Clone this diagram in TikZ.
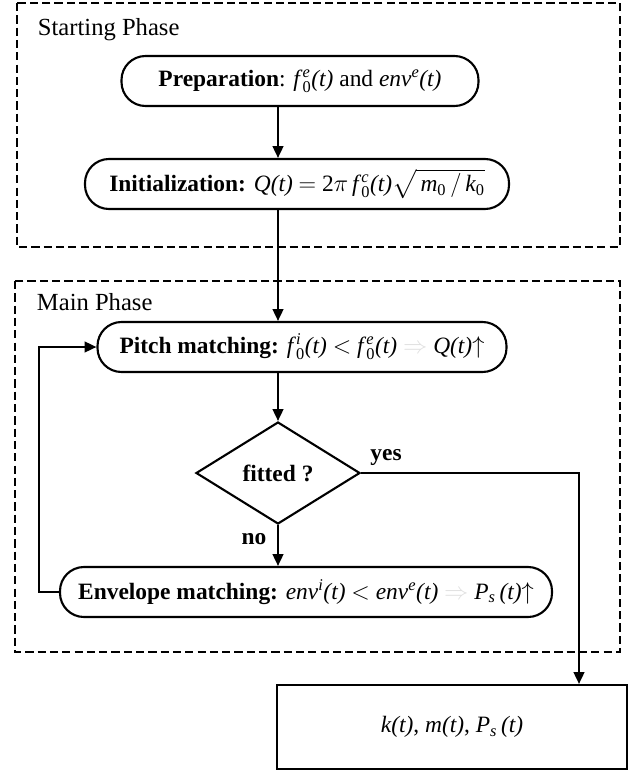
\documentclass[tikz,border=0pt]{standalone}
\usepackage{fontspec}
\setmainfont{Liberation Serif}
\usepackage{amsmath}
\usetikzlibrary{shapes.geometric,arrows.meta}
\newcommand{\fzero}[1]{\textit{f}$_{\textrm{0}}^{\textit{#1}}$\textit{(t)}}
\newcommand{\envel}[1]{\textit{env}$^{\textit{#1}}$\textit{(t)}}
\newcommand{\faint}{{\color{black!12}$\Rightarrow$}}

\begin{document}
\begin{tikzpicture}[x=0.03cm,y=-0.03cm,line width=1.8pt,>={Triangle[length=10pt,width=9pt]},
  every node/.style={font=\fontsize{20}{23}\selectfont},
  stage/.style={draw,rectangle,rounded corners=0.72cm,minimum height=1.5cm,inner sep=0pt},
  test/.style={draw,diamond,inner sep=0pt,minimum width=4.92cm,minimum height=3.06cm},
  phase/.style={draw,line width=1.5pt,dash pattern=on 7pt off 3.5pt}]
\useasboundingbox (0,0) rectangle (631,771);
\draw[phase] (17,3) rectangle (620,247);
\draw[phase] (15,281) rectangle (620,652);
\node[anchor=west,font=\fontsize{21}{24}\selectfont] (start) at (33,30)  { Starting Phase };
\node[anchor=west,font=\fontsize{21}{24}\selectfont] (main)  at (32,302) { Main Phase };
\node[stage,minimum width=10.71cm]  (prep)  at (300,81) { \textbf{Preparation}: \fzero{e} and \envel{e} };
\node[stage,minimum width=12.72cm]  (init)  at (297,184) { \textbf{Initialization:} \textit{Q(t)} $=$ 2$\pi$\,\fzero{c}$\sqrt{\,\textit{m}_{\textrm{0}}\,/\,\textit{k}_{\textrm{0}}}$ };
\node[stage,minimum width=12.27cm]  (pitch) at (302,347) { \textbf{Pitch matching:} \fzero{i} $<$ \fzero{e} \faint\ \textit{Q(t)}$\uparrow$ };
\node[test]                         (fit)   at (278,473) { \textbf{fitted ?} };
\node[stage,minimum width=14.76cm]  (env)   at (306,592) { \textbf{Envelope matching:} \envel{i} $<$ \envel{e} \faint\ \textit{P}$_{\textit{s}}$\,\textit{(t)}$\uparrow$ };
\node[draw,minimum width=10.5cm,minimum height=2.52cm] (res) at (452,727) { \textit{k(t)}, \textit{m(t)}, \textit{P}$_{\textit{s}}$\,\textit{(t)} };
\node                               (yes)   at (386,457) { \textbf{yes} };
\node                               (no)    at (254,539) { \textbf{no} };
\coordinate (col)  at (278,0);
\coordinate (yesx) at (579,0);
\draw[->] (prep.south -| col)  -- (init.north -| col);
\draw[->] (init.south -| col)  -- (pitch.north -| col);
\draw[->] (pitch.south -| col) -- (fit.north);
\draw[->] (fit.south)          -- (fit.south |- env.north);
\draw[->] (env.west) -- ++(-20,0) |- (pitch.west);
\draw[->] (fit.east) -| (yesx |- res.north);
\end{tikzpicture}
\end{document}
